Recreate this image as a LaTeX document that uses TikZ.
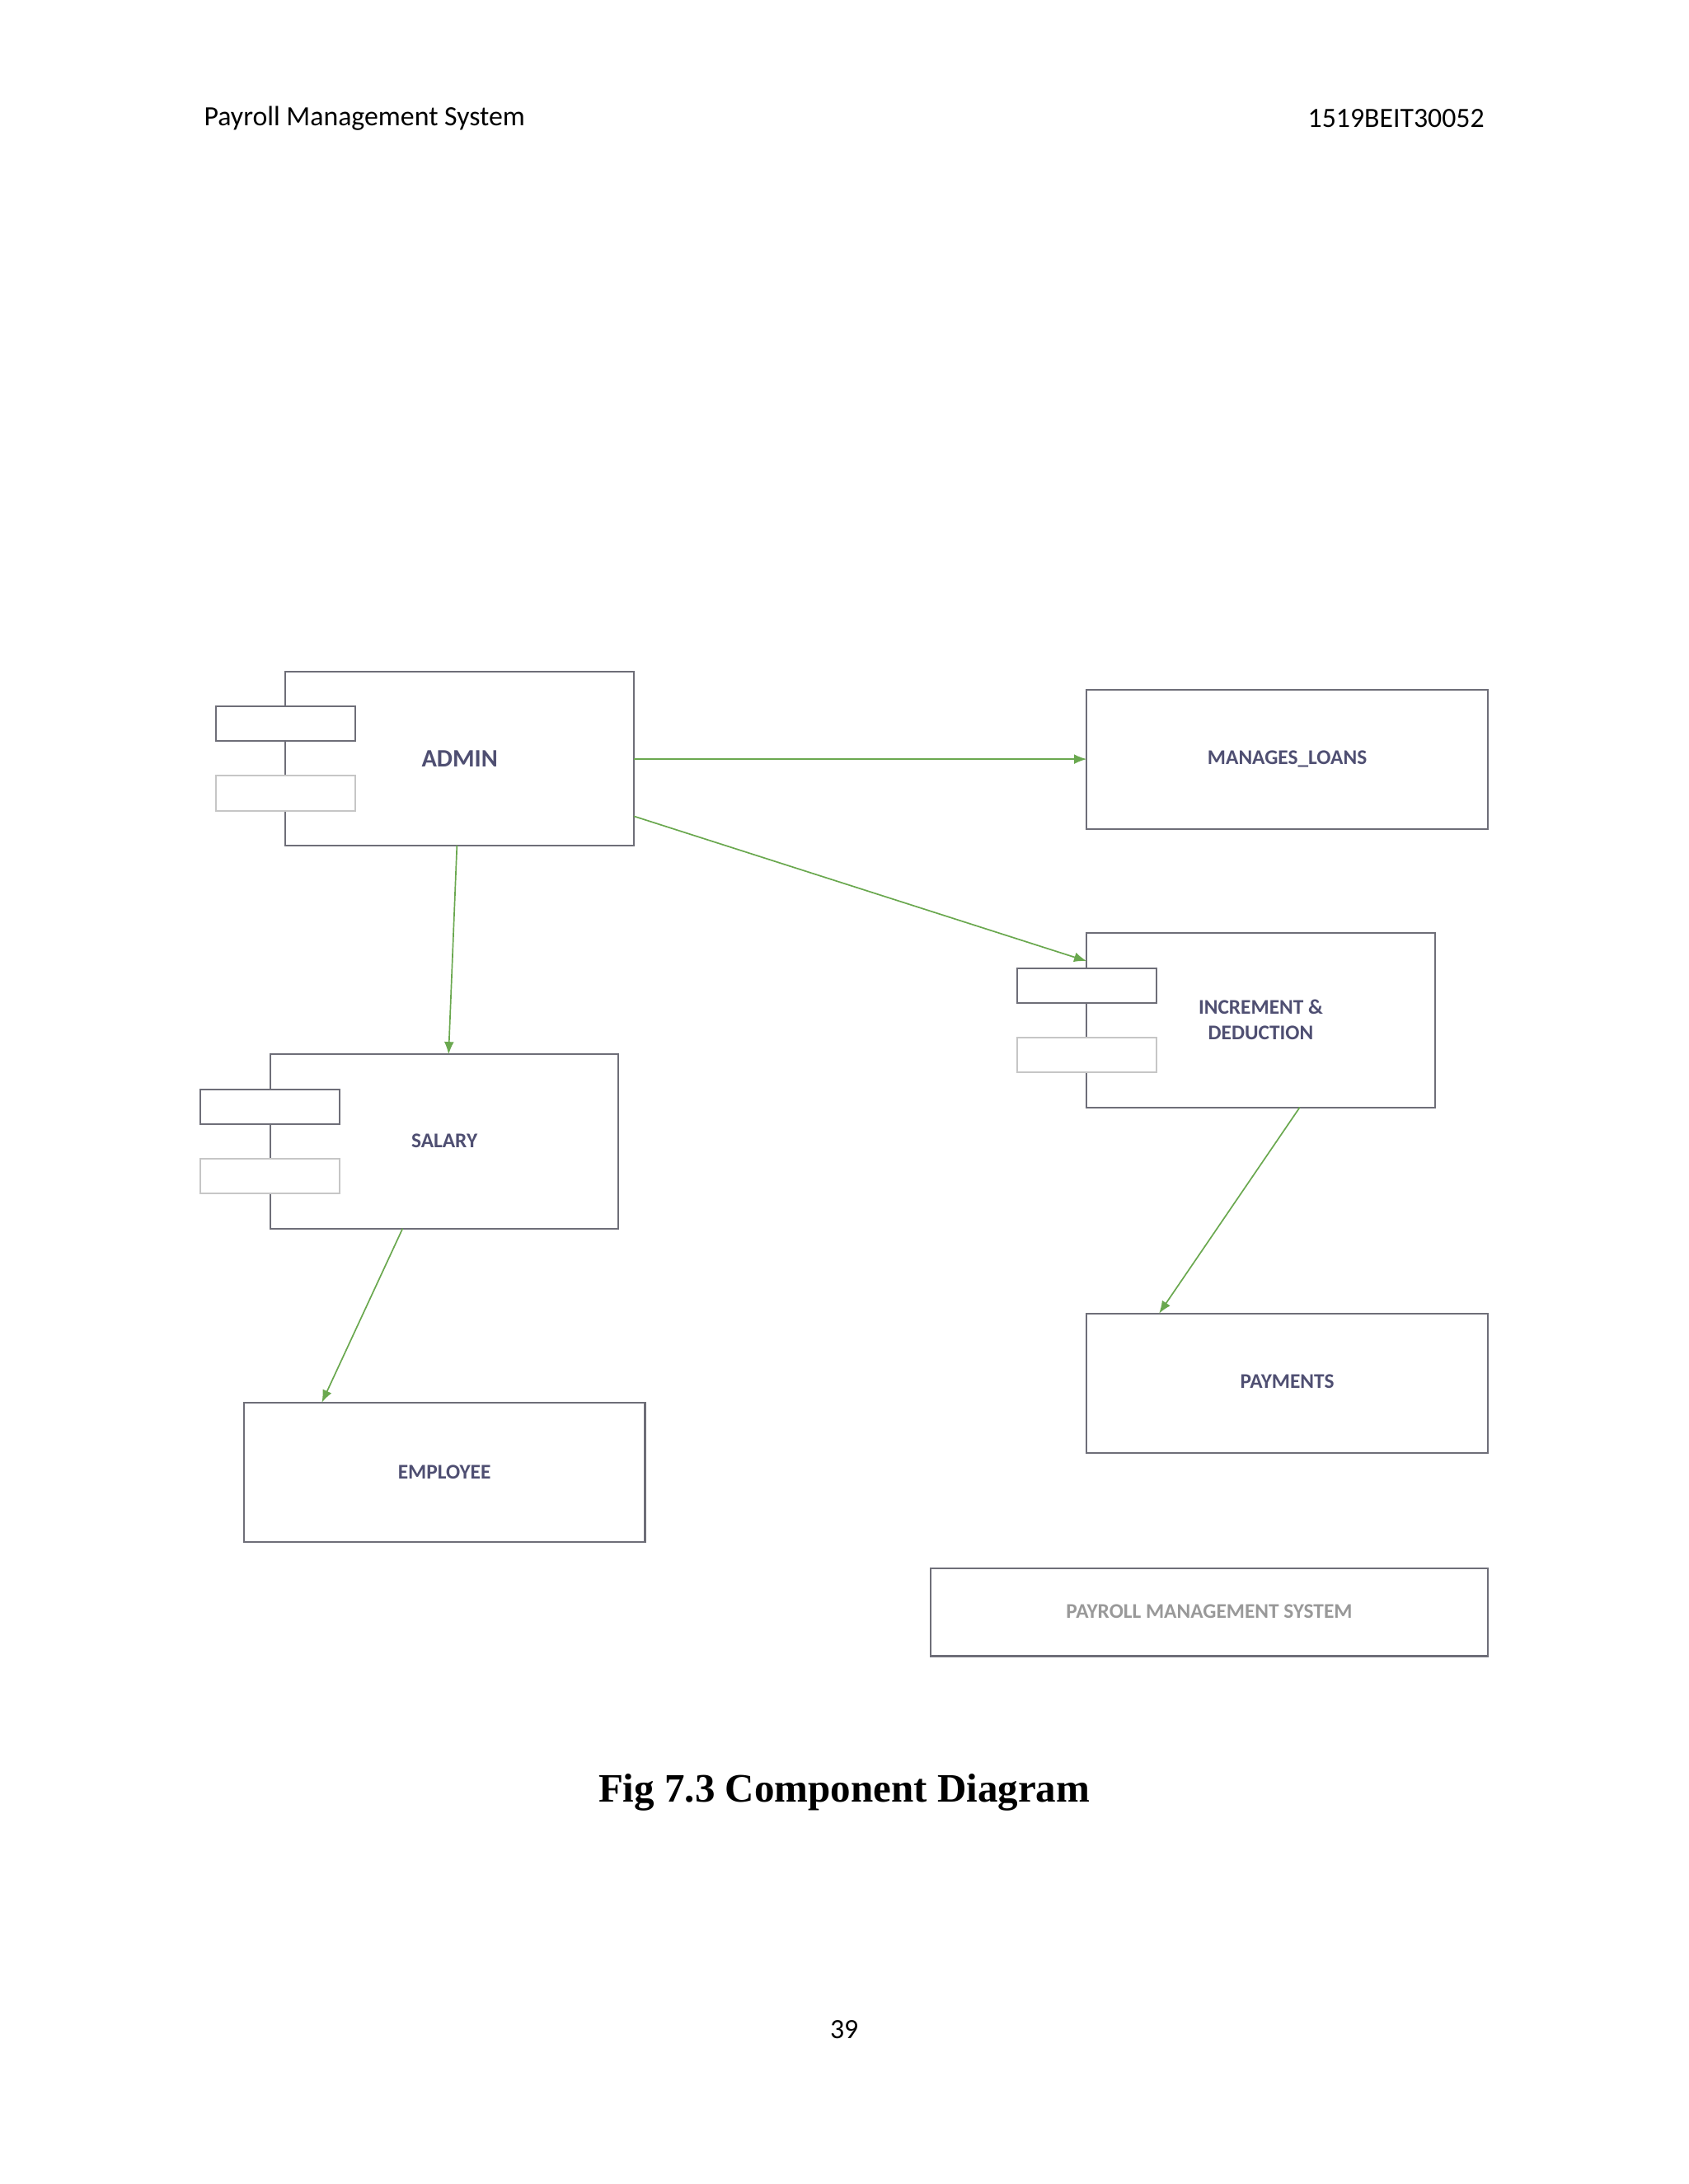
\documentclass[tikz,border=0pt]{standalone}
\usepackage{fontspec}
\setmainfont{Carlito}
\newfontfamily\capfont{Liberation Serif}
\usetikzlibrary{arrows.meta}
\definecolor{lbl}{HTML}{4F4F72}
\definecolor{grn}{HTML}{6AA84F}
\definecolor{edge}{HTML}{6E6E78}
\begin{document}
\begin{tikzpicture}[x=1pt,y=-1pt,
  box/.style={draw=edge,line width=1.2pt,fill=white},
  lite/.style={draw=gray!45,line width=1.2pt,fill=white},
  lab/.style={text=lbl,font=\bfseries\fontsize{15}{18}\selectfont,align=center},
  arr/.style={draw=grn,line width=1pt,-{Latex[length=9pt,width=7pt]}}]
\useasboundingbox (0,0) rectangle (1212,1568);
\node[anchor=west,font=\fontsize{20}{24}\selectfont] (h1) at (143,85) {Payroll Management System};
\node[anchor=east,font=\fontsize{20}{24}\selectfont] (h2) at (1069,85) {1519BEIT30052};
% ADMIN
\draw[box] (205,482) rectangle (455,607);
\draw[box] (155,507) rectangle (255,532);
\draw[lite] (155,557) rectangle (255,582);
\node[lab,font=\bfseries\fontsize{18}{21}\selectfont] (admin) at (330,545) {ADMIN};
% MANAGES_LOANS
\draw[box] (780,495) rectangle (1068,595);
\node[lab] (loans) at (924,545) {MANAGES\_LOANS};
% INCREMENT
\draw[box] (780,670) rectangle (1030,795);
\draw[box] (730,695) rectangle (830,720);
\draw[lite] (730,745) rectangle (830,770);
\node[lab] (inc) at (905,732) {INCREMENT \&\\DEDUCTION};
% SALARY
\draw[box] (194,757) rectangle (444,882);
\draw[box] (144,782) rectangle (244,807);
\draw[lite] (144,832) rectangle (244,857);
\node[lab] (sal) at (319,819) {SALARY};
% EMPLOYEE
\draw[box] (175,1007) rectangle (463,1107);
\node[lab] (emp) at (319,1057) {EMPLOYEE};
% PAYMENTS
\draw[box] (780,943) rectangle (1068,1043);
\node[lab] (pay) at (924,992) {PAYMENTS};
% PMS
\draw[box] (668,1126) rectangle (1068,1189);
\node[lab,text=gray!80] (pms) at (868,1157) {PAYROLL MANAGEMENT SYSTEM};
% arrows
\coordinate (a1) at (455,545); \coordinate (b1) at (780,545);
\coordinate (a2) at (455,586); \coordinate (b2) at (780,690);
\coordinate (a3) at (328,607); \coordinate (b3) at (322,757);
\coordinate (a4) at (289,882); \coordinate (b4) at (231,1007);
\coordinate (a5) at (933,795); \coordinate (b5) at (832,943);
\draw[arr] (a1) -- (b1);
\draw[arr] (a2) -- (b2);
\draw[arr] (a3) -- (b3);
\draw[arr] (a4) -- (b4);
\draw[arr] (a5) -- (b5);
\node[font=\capfont\bfseries\fontsize{29}{34}\selectfont] (cap) at (606,1287) {Fig 7.3 Component Diagram};
\node[font=\fontsize{20}{24}\selectfont] (pg) at (606,1457) {39};
\end{tikzpicture}
\end{document}
